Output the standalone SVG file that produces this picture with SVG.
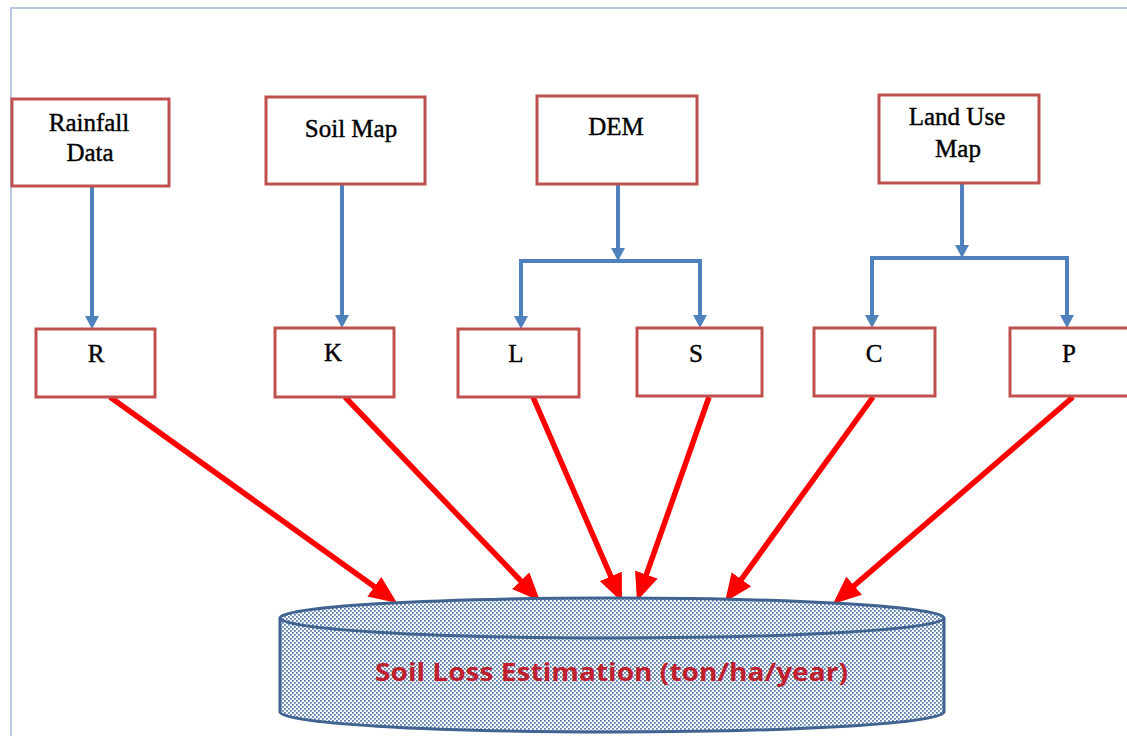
<svg xmlns="http://www.w3.org/2000/svg" width="1127" height="736" viewBox="0 0 1127 736">
<style>
.box{fill:#ffffff;stroke:#c0504d;stroke-width:3}
.lbl{font-family:"Liberation Serif","Times New Roman",serif;font-size:25px;fill:#000;stroke:#000;stroke-width:0.4;text-anchor:middle}
.blue{fill:none;stroke:#4f81bd;stroke-width:4;stroke-linejoin:miter;marker-end:url(#bArrow)}
.red{fill:none;stroke:#ff0000;stroke-width:5.5;marker-end:url(#rArrow)}
</style>
<defs>
<marker id="bArrow" markerUnits="userSpaceOnUse" markerWidth="13" markerHeight="14" viewBox="0 0 13 14" refX="6" refY="7" orient="auto">
<path d="M0,0 L13,7 L0,14 Z" fill="#4f81bd"/>
</marker>
<marker id="rArrow" markerUnits="userSpaceOnUse" markerWidth="28" markerHeight="24" viewBox="0 0 28 24" refX="8" refY="12" orient="auto">
<path d="M0,0 L28,12 L0,24 Z" fill="#ff0000"/>
</marker>
<pattern id="dots" width="4" height="4" patternUnits="userSpaceOnUse">
<rect width="4" height="4" fill="#ffffff"/>
<rect x="0" y="0" width="1.8" height="1.8" fill="#5a7fb0"/>
<rect x="2" y="2" width="1.8" height="1.8" fill="#5a7fb0"/>
</pattern>
</defs>
<rect width="1127" height="736" fill="#ffffff"/>
<path d="M11,736 L11,8 L1127,8" fill="none" stroke="#b9c9e0" stroke-width="2"/>

<g id="connectors">
<path class="blue" d="M92,186 L92,322"/>
<path class="blue" d="M342,184 L342,321"/>
<path class="blue" d="M618,184 L618,254"/>
<path class="blue" d="M618,261 L521,261 L521,322"/>
<path class="blue" d="M618,261 L700,261 L700,321"/>
<path class="blue" d="M962,183 L962,251"/>
<path class="blue" d="M962,258 L872,258 L872,321"/>
<path class="blue" d="M962,258 L1067,258 L1067,321"/>
<path class="red" d="M110,397 L380.8,591.3"/>
<path class="red" d="M345,397 L526.2,586.5"/>
<path class="red" d="M533,397 L614,583.7"/>
<path class="red" d="M709,397 L643.7,582.1"/>
<path class="red" d="M873,397 L736.7,585.8"/>
<path class="red" d="M1073,397 L848.1,590.9"/>
</g>

<g id="rainfall"><rect class="box" x="12" y="99" width="157" height="87"/><text class="lbl" x="89" y="131">Rainfall</text><text class="lbl" x="90" y="161">Data</text></g>
<g id="soilmap"><rect class="box" x="266" y="97" width="159" height="87"/><text class="lbl" x="351" y="137">Soil Map</text></g>
<g id="dem"><rect class="box" x="537" y="96" width="160" height="88"/><text class="lbl" x="616" y="135">DEM</text></g>
<g id="landuse"><rect class="box" x="879" y="95" width="160" height="88"/><text class="lbl" x="957" y="125">Land Use</text><text class="lbl" x="958" y="157">Map</text></g>
<g id="R"><rect class="box" x="36" y="329" width="119" height="68"/><text class="lbl" x="96" y="362">R</text></g>
<g id="K"><rect class="box" x="275" y="328" width="119" height="69"/><text class="lbl" x="333" y="361">K</text></g>
<g id="L"><rect class="box" x="458" y="329" width="121" height="68"/><text class="lbl" x="516" y="362">L</text></g>
<g id="S"><rect class="box" x="637" y="328" width="125" height="68"/><text class="lbl" x="696" y="362">S</text></g>
<g id="C"><rect class="box" x="814" y="328" width="121" height="68"/><text class="lbl" x="874" y="362">C</text></g>
<g id="P"><rect class="box" x="1010" y="328" width="125" height="68"/><text class="lbl" x="1069" y="362">P</text></g>

<g id="soilloss">
<path d="M280,618 A332,20 0 0 1 944,618 L944,712 A332,20 0 0 1 280,712 Z" fill="url(#dots)" stroke="#41638f" stroke-width="3"/>
<path d="M280,618 A332,20 0 0 0 944,618" fill="none" stroke="#41638f" stroke-width="3"/>
<text x="375" y="681" textLength="473" lengthAdjust="spacingAndGlyphs" font-family="'Open Sans','Liberation Sans',sans-serif" font-weight="bold" font-size="25" fill="#c0202e">Soil Loss Estimation (ton/ha/year)</text>
</g>
</svg>
